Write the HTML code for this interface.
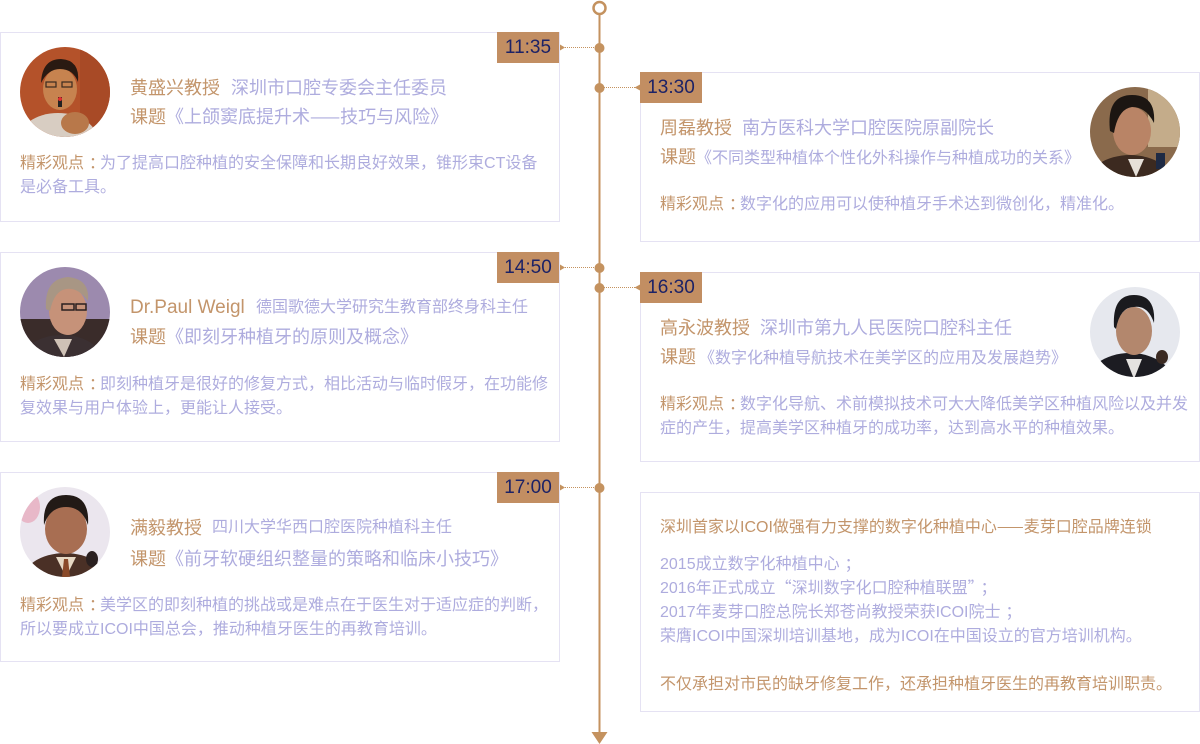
<!DOCTYPE html>
<html><head><meta charset="utf-8">
<style>
*{margin:0;padding:0;box-sizing:border-box}
html,body{width:1200px;height:744px;background:#fff;overflow:hidden}
body{position:relative;font-family:"Liberation Sans","Noto Sans CJK SC",sans-serif}
.card{position:absolute;border:1px solid #e5e2f3;background:#fff}
.tb{position:absolute;width:62px;height:31px;background:#c28e62;color:#1c2266;font-size:19px;line-height:31px;text-align:center}
.t{position:absolute;white-space:nowrap}
.br{color:#c3956b}
.pu{color:#aeacde}
.av{position:absolute;width:90px;height:90px}
.cj{font-family:"Noto Sans CJK SC",sans-serif;line-height:0}
.co{position:relative;left:5px}
</style></head><body>

<!-- cards -->
<div class="card" style="left:0;top:32px;width:560px;height:190px"></div>
<div class="card" style="left:0;top:252px;width:560px;height:190px"></div>
<div class="card" style="left:0;top:472px;width:560px;height:190px"></div>
<div class="card" style="left:640px;top:72px;width:560px;height:170px"></div>
<div class="card" style="left:640px;top:272px;width:560px;height:190px"></div>
<div class="card" style="left:640px;top:492px;width:560px;height:220px"></div>

<!-- timeline -->
<svg style="position:absolute;left:0;top:0" width="1200" height="744">
  <line x1="599.5" y1="14" x2="599.5" y2="734" stroke="#c4925f" stroke-width="2"/>
  <circle cx="599.5" cy="8" r="6" fill="#fff" stroke="#c4925f" stroke-width="2.5"/>
  <g fill="#c4925f">
    <circle cx="599.5" cy="48" r="5"/>
    <circle cx="599.5" cy="88" r="5"/>
    <circle cx="599.5" cy="268" r="5"/>
    <circle cx="599.5" cy="288" r="5"/>
    <circle cx="599.5" cy="488" r="5"/>
    <polygon points="591.5,732 607.5,732 599.5,744"/>
    <polygon points="560,44.5 565,47.5 560,50.5"/>
    <polygon points="560,264.5 565,267.5 560,270.5"/>
    <polygon points="560,484.5 565,487.5 560,490.5"/>
    <polygon points="640,84.5 634.5,87.5 640,90.5"/>
    <polygon points="640,284.5 634.5,287.5 640,290.5"/>
  </g>
  <g stroke="#c4925f" stroke-width="1" stroke-dasharray="1,1">
    <line x1="565" y1="47.5" x2="595" y2="47.5"/>
    <line x1="565" y1="267.5" x2="595" y2="267.5"/>
    <line x1="565" y1="487.5" x2="595" y2="487.5"/>
    <line x1="604" y1="87.5" x2="635" y2="87.5"/>
    <line x1="604" y1="287.5" x2="635" y2="287.5"/>
  </g>
</svg>

<!-- time boxes -->
<div class="tb" style="left:497px;top:32px">11:35</div>
<div class="tb" style="left:497px;top:252px">14:50</div>
<div class="tb" style="left:497px;top:472px">17:00</div>
<div class="tb" style="left:640px;top:72px">13:30</div>
<div class="tb" style="left:640px;top:272px">16:30</div>

<!-- avatars -->
<svg class="av" style="left:20px;top:47px" viewBox="0 0 90 90">
  <defs><clipPath id="c1"><circle cx="45" cy="45" r="45"/></clipPath></defs>
  <g clip-path="url(#c1)">
    <rect width="90" height="90" fill="#b4522a"/>
    <rect x="60" y="0" width="30" height="90" fill="#a84a26"/>
    <ellipse cx="38" cy="94" rx="40" ry="28" fill="#d8cdc2"/>
    <ellipse cx="40" cy="42" rx="17" ry="21" fill="#c7834f"/>
    <path d="M21 36 Q22 12 41 12 Q60 13 58 35 Q53 22 40 22 Q28 22 21 36Z" fill="#2a1a12"/>
    <rect x="26" y="35" width="10" height="5" fill="none" stroke="#3a2a20" stroke-width="1.2"/>
    <rect x="42" y="35" width="10" height="5" fill="none" stroke="#3a2a20" stroke-width="1.2"/>
    <rect x="38" y="50" width="4" height="10" fill="#222"/>
    <circle cx="40" cy="52" r="2" fill="#e03030"/>
    <ellipse cx="55" cy="76" rx="14" ry="11" fill="#b8784a"/>
  </g>
</svg>
<svg class="av" style="left:20px;top:267px" viewBox="0 0 90 90">
  <defs><clipPath id="c2"><circle cx="45" cy="45" r="45"/></clipPath></defs>
  <g clip-path="url(#c2)">
    <rect width="90" height="90" fill="#9c8aae"/>
    <rect y="52" width="90" height="40" fill="#3a2c2a"/>
    <ellipse cx="42" cy="96" rx="42" ry="28" fill="#3b3032"/>
    <path d="M34 72 L44 90 L52 72Z" fill="#cfc2b6"/>
    <ellipse cx="48" cy="44" rx="19" ry="24" fill="#c69279"/>
    <path d="M26 42 Q24 12 48 10 Q70 12 68 34 Q58 20 46 22 Q34 24 30 44Z" fill="#a89684"/>
    <rect x="42" y="37" width="12" height="6" fill="none" stroke="#2a2020" stroke-width="1.5"/>
    <rect x="56" y="37" width="10" height="6" fill="none" stroke="#2a2020" stroke-width="1.5"/>
  </g>
</svg>
<svg class="av" style="left:20px;top:487px" viewBox="0 0 90 90">
  <defs><clipPath id="c3"><circle cx="45" cy="45" r="45"/></clipPath></defs>
  <g clip-path="url(#c3)">
    <rect width="90" height="90" fill="#ebe6ee"/>
    <ellipse cx="8" cy="20" rx="12" ry="16" fill="#e8b8c8"/>
    <ellipse cx="45" cy="96" rx="44" ry="30" fill="#4a3026"/>
    <path d="M36 70 L46 90 L56 70Z" fill="#e6d8c4"/>
    <path d="M44 72 L48 72 L50 90 L42 90Z" fill="#8a4a2a"/>
    <ellipse cx="46" cy="42" rx="21" ry="25" fill="#a86e52"/>
    <path d="M24 38 Q22 8 46 8 Q70 8 68 38 Q62 20 46 20 Q30 20 24 38Z" fill="#221a16"/>
    <ellipse cx="72" cy="72" rx="6" ry="8" fill="#2a2020"/>
  </g>
</svg>
<svg class="av" style="left:1090px;top:87px" viewBox="0 0 90 90">
  <defs><clipPath id="c4"><circle cx="45" cy="45" r="45"/></clipPath></defs>
  <g clip-path="url(#c4)">
    <rect width="90" height="90" fill="#8a6a4c"/>
    <rect x="58" width="32" height="60" fill="#c4ac8a"/>
    <ellipse cx="40" cy="98" rx="44" ry="30" fill="#3c2a20"/>
    <path d="M38 72 L46 90 L54 72Z" fill="#e6e0d8"/>
    <ellipse cx="42" cy="44" rx="19" ry="24" fill="#b98466"/>
    <path d="M20 44 Q16 8 42 8 Q66 8 64 36 Q56 20 42 20 Q28 22 24 46Z" fill="#1c1612"/>
    <rect x="66" y="66" width="9" height="16" fill="#1e2a44"/>
  </g>
</svg>
<svg class="av" style="left:1090px;top:287px" viewBox="0 0 90 90">
  <defs><clipPath id="c5"><circle cx="45" cy="45" r="45"/></clipPath></defs>
  <g clip-path="url(#c5)">
    <rect width="90" height="90" fill="#e6e8ee"/>
    <ellipse cx="40" cy="100" rx="46" ry="34" fill="#1c1c22"/>
    <path d="M36 72 L44 92 L52 72Z" fill="#e4e2e0"/>
    <ellipse cx="44" cy="44" rx="18" ry="24" fill="#b3876d"/>
    <path d="M24 40 Q22 8 44 8 Q66 8 64 36 Q58 18 44 20 Q30 20 26 42Z" fill="#1a1a1e"/>
    <ellipse cx="72" cy="70" rx="6" ry="7" fill="#3a2a22"/>
  </g>
</svg>

<!-- Left card 1 -->
<div class="t br" style="left:130px;top:73px;font-size:18px;line-height:30px">黄盛兴教授</div>
<div class="t pu" style="left:231px;top:73px;font-size:18px;line-height:30px">深圳市口腔专委会主任委员</div>
<div class="t" style="left:130px;top:102px;font-size:18px;line-height:30px"><span class="br">课题</span><span class="pu">《上颌窦底提升术<span class="cj">——</span>技巧与风险》</span></div>
<div class="t" style="left:20px;top:152px;font-size:16px;line-height:24px"><span class="br">精彩观点<span class="co">：</span></span><span class="pu">为了提高口腔种植的安全保障和长期良好效果，锥形束CT设备<br>是必备工具。</span></div>

<!-- Left card 2 -->
<div class="t br" style="left:130px;top:293px;font-size:19px;line-height:30px">Dr.Paul Weigl</div>
<div class="t pu" style="left:256px;top:293px;font-size:16px;line-height:30px">德国歌德大学研究生教育部终身科主任</div>
<div class="t" style="left:130px;top:322px;font-size:18px;line-height:30px"><span class="br">课题</span><span class="pu">《即刻牙种植牙的原则及概念》</span></div>
<div class="t" style="left:20px;top:373px;font-size:16px;line-height:24px"><span class="br">精彩观点<span class="co">：</span></span><span class="pu">即刻种植牙是很好的修复方式，相比活动与临时假牙，在功能修<br>复效果与用户体验上，更能让人接受。</span></div>

<!-- Left card 3 -->
<div class="t br" style="left:130px;top:513px;font-size:18px;line-height:30px">满毅教授</div>
<div class="t pu" style="left:212px;top:513px;font-size:16px;line-height:30px">四川大学华西口腔医院种植科主任</div>
<div class="t" style="left:130px;top:544px;font-size:18px;line-height:30px"><span class="br">课题</span><span class="pu">《前牙软硬组织整量的策略和临床小技巧》</span></div>
<div class="t" style="left:20px;top:594px;font-size:16px;line-height:24px"><span class="br">精彩观点<span class="co">：</span></span><span class="pu">美学区的即刻种植的挑战或是难点在于医生对于适应症的判断，<br>所以要成立ICOI中国总会，推动种植牙医生的再教育培训。</span></div>

<!-- Right card 1 -->
<div class="t br" style="left:660px;top:113px;font-size:18px;line-height:30px">周磊教授</div>
<div class="t pu" style="left:742px;top:113px;font-size:18px;line-height:30px">南方医科大学口腔医院原副院长</div>
<div class="t" style="left:660px;top:142px;font-size:18px;line-height:30px"><span class="br">课题</span><span class="pu" style="font-size:16px">《不同类型种植体个性化外科操作与种植成功的关系》</span></div>
<div class="t" style="left:660px;top:193px;font-size:16px;line-height:24px"><span class="br">精彩观点<span class="co">：</span></span><span class="pu">数字化的应用可以使种植牙手术达到微创化，精准化。</span></div>

<!-- Right card 2 -->
<div class="t br" style="left:660px;top:313px;font-size:18px;line-height:30px">高永波教授</div>
<div class="t pu" style="left:760px;top:313px;font-size:18px;line-height:30px">深圳市第九人民医院口腔科主任</div>
<div class="t" style="left:660px;top:342px;font-size:18px;line-height:30px"><span class="br">课题</span><span class="pu" style="font-size:16px;margin-left:3px">《数字化种植导航技术在美学区的应用及发展趋势》</span></div>
<div class="t" style="left:660px;top:393px;font-size:16px;line-height:24px"><span class="br">精彩观点<span class="co">：</span></span><span class="pu">数字化导航、术前模拟技术可大大降低美学区种植风险以及并发<br>症的产生，提高美学区种植牙的成功率，达到高水平的种植效果。</span></div>

<!-- Right card 3 -->
<div class="t br" style="left:660px;top:516px;font-size:16px;line-height:24px">深圳首家以ICOI做强有力支撑的数字化种植中心<span class="cj">——</span>麦芽口腔品牌连锁</div>
<div class="t pu" style="left:660px;top:553px;font-size:16px;line-height:24px">2015成立数字化种植中心<span class="co">；</span></div>
<div class="t pu" style="left:660px;top:577px;font-size:16px;line-height:24px">2016年正式成立<span class="cj">“</span>深圳数字化口腔种植联盟<span class="cj">”</span><span class="co">；</span></div>
<div class="t pu" style="left:660px;top:601px;font-size:16px;line-height:24px">2017年麦芽口腔总院长郑苍尚教授荣获ICOI院士<span class="co">；</span></div>
<div class="t pu" style="left:660px;top:625px;font-size:16px;line-height:24px">荣膺ICOI中国深圳培训基地，成为ICOI在中国设立的官方培训机构。</div>
<div class="t br" style="left:660px;top:673px;font-size:16px;line-height:24px">不仅承担对市民的缺牙修复工作，还承担种植牙医生的再教育培训职责。</div>

</body></html>
